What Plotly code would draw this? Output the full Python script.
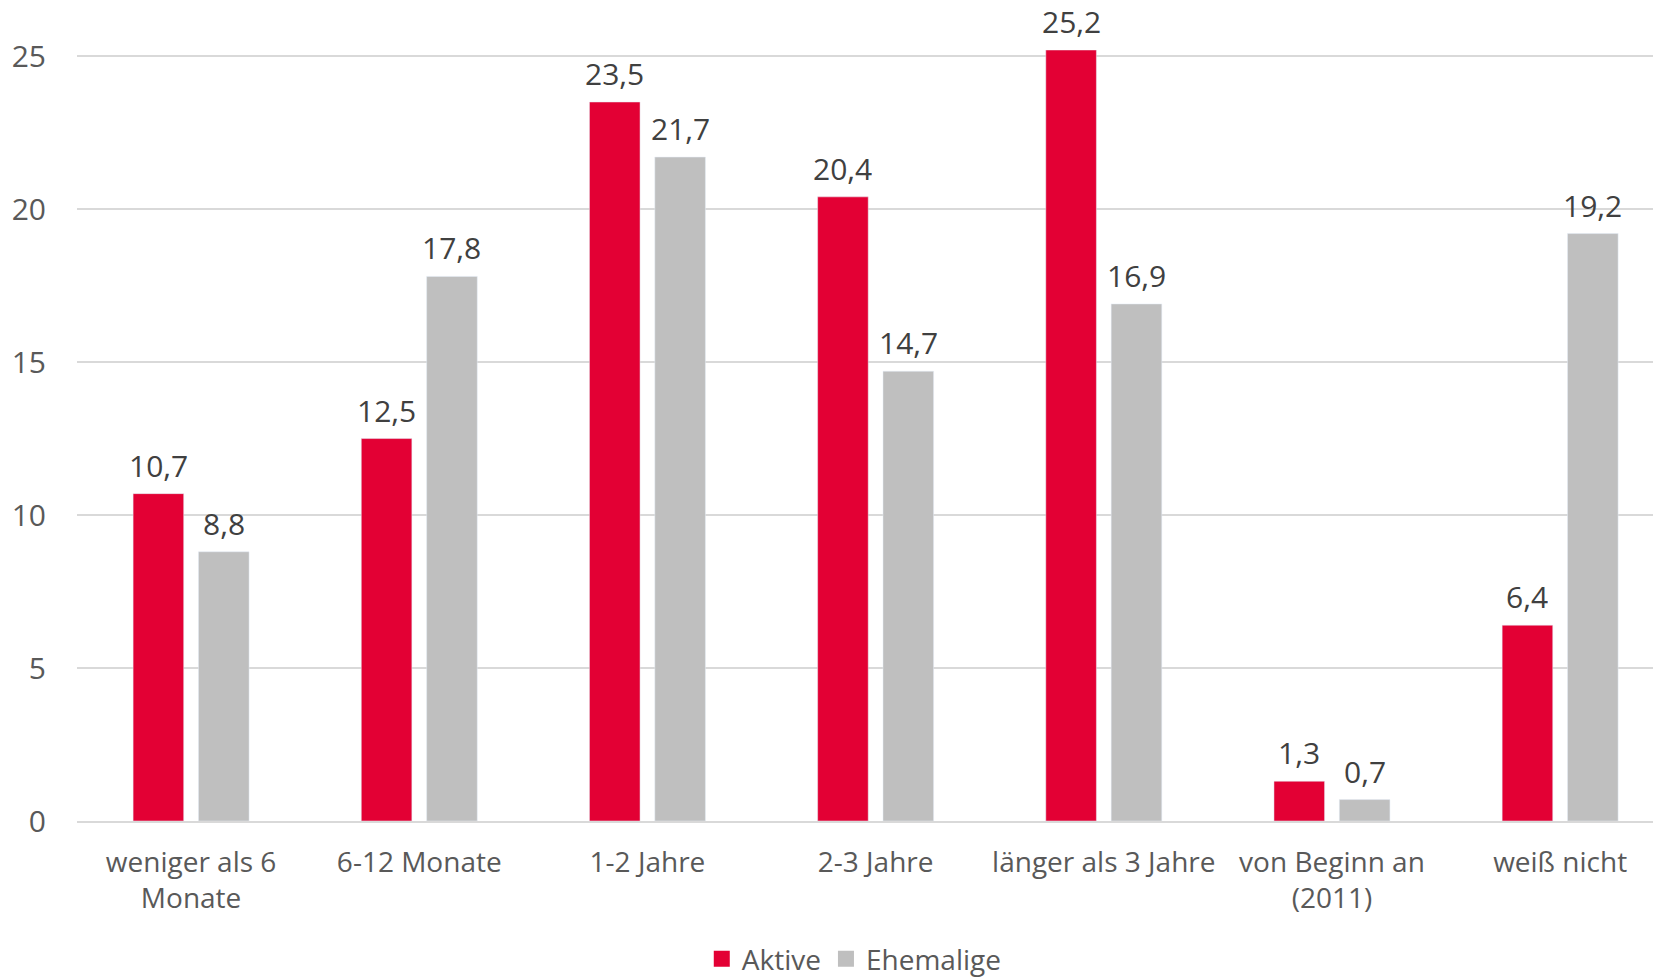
import plotly.graph_objects as go

categories = ["weniger als 6<br>Monate", "6-12 Monate", "1-2 Jahre", "2-3 Jahre",
              "länger als 3 Jahre", "von Beginn an<br>(2011)", "weiß nicht"]
aktive = [10.7, 12.5, 23.5, 20.4, 25.2, 1.3, 6.4]
ehemalige = [8.8, 17.8, 21.7, 14.7, 16.9, 0.7, 19.2]
y_ticks = [0, 5, 10, 15, 20, 25]

FONT = "Open Sans"
RED = "#E30034"
GRAY = "#BFBFBF"

fig = go.Figure()
fig.add_trace(go.Bar(name="Aktive", x=categories, y=aktive, marker_color=RED,
                     showlegend=False, cliponaxis=False))
fig.add_trace(go.Bar(name="Ehemalige", x=categories, y=ehemalige, marker_color=GRAY,
                     showlegend=False, cliponaxis=False))
# legend entries with larger square swatches
for name, col in [("Aktive", RED), ("Ehemalige", GRAY)]:
    fig.add_trace(go.Scatter(name=name, x=[None], y=[None], mode="markers",
                             marker=dict(symbol="square", size=17, color=col)))

# data labels
SLOT_SHIFT = 32.7
for vals, sh in [(aktive, -SLOT_SHIFT), (ehemalige, SLOT_SHIFT)]:
    for c, v in zip(categories, vals):
        fig.add_annotation(x=c, y=v, text=f"{v:.1f}".replace(".", ","),
                           showarrow=False, yanchor="middle", xanchor="center",
                           xshift=sh, yshift=29, height=34, valign="middle",
                           font=dict(size=30, color="#404040", family=FONT))

fig.update_layout(
    width=1653, height=979,
    separators=",.",
    barmode="group", bargap=0.427, bargroupgap=0.226,
    plot_bgcolor="white", paper_bgcolor="white",
    margin=dict(l=77, r=0, t=50, b=158),
    font=dict(family=FONT, size=28, color="#595959"),
    showlegend=True,
    legend=dict(orientation="h", xref="container", x=0.5168, xanchor="center",
                yref="container", y=0.0204, yanchor="middle",
                font=dict(size=28, color="#595959"), itemwidth=30,
                traceorder="normal"),
)
fig.update_xaxes(range=[-0.5, 6.407], showgrid=False, showline=True, linecolor="#D9D9D9",
                 linewidth=2, ticks="", tickfont=dict(size=28, color="#595959"),
                 ticklabelstandoff=15)
fig.update_yaxes(range=[0, 25.2], tickvals=y_ticks, showgrid=True, gridcolor="#D9D9D9",
                 gridwidth=2, zeroline=False, showline=False, ticks="",
                 tickfont=dict(size=30, color="#595959"), ticklabelstandoff=30)

fig.write_html("out.html", config={"displayModeBar": False},
               post_script="document.body.style.margin='0';document.body.style.overflow='hidden';")
